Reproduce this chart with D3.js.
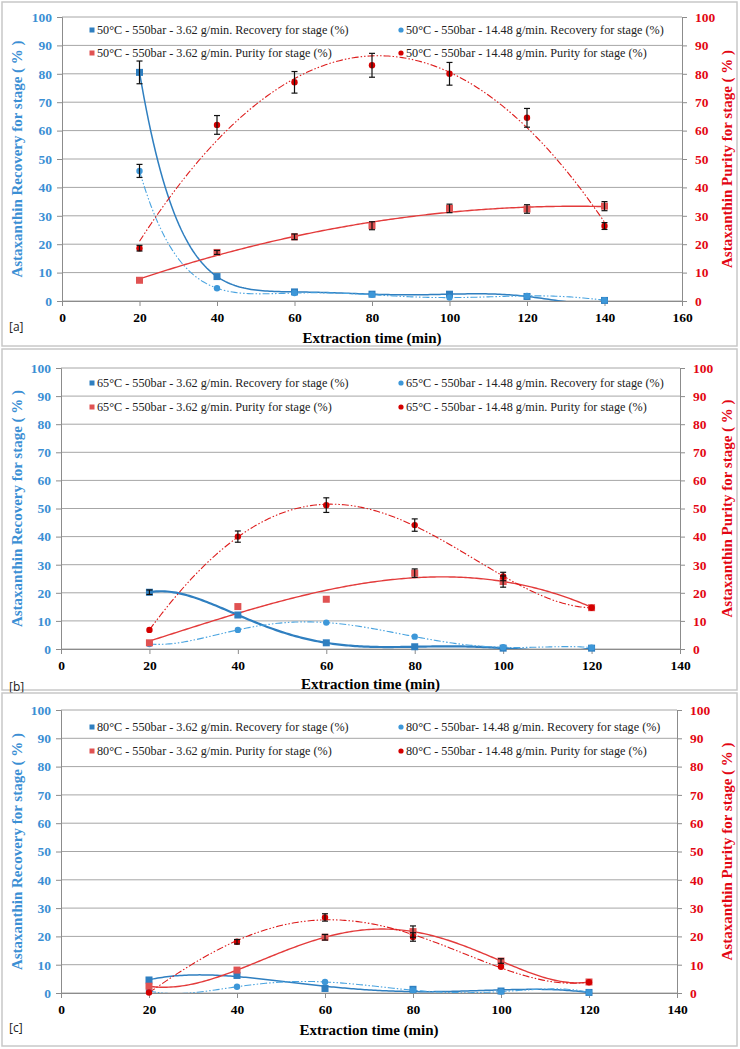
<!DOCTYPE html>
<html>
<head>
<meta charset="utf-8">
<script src="https://cdn.jsdelivr.net/npm/d3@7"></script>
<style>
  body { margin: 0; background: #fff; }
  svg text { font-family: "Liberation Serif", Tinos, "Times New Roman", "Nimbus Roman", "DejaVu Serif", serif; }
</style>
</head>
<body>
<svg id="chart" width="740" height="1049"></svg>
<script>
// ---- data ----
const timeA = [20, 40, 60, 80, 100, 120, 140]
const recA1 = [80.5, 8.6, 3.2, 2.4, 2.4, 1.6, 0.2]
const recA1Err = [4, 0.5, 0.5, 0.3, 0.3, 0.3, 0]
const recA2 = [45.8, 4.5, 2.8, 2.2, 1.2, 1.8, 0.3]
const recA2Err = [2.3, 0.3, 0.3, 0.2, 0.2, 0.2, 0]
const purA1 = [7.3, 17.1, 22.6, 26.5, 32.6, 32.4, 33.4]
const purA1Err = [0.5, 0.7, 1, 1.4, 1.5, 1.5, 1.6]
const purA2 = [18.6, 62, 77, 83, 80, 64.5, 26.4]
const purA2Err = [1, 3.3, 3.8, 4.2, 4, 3.3, 1.2]

const timeB = [20, 40, 60, 80, 100, 120]
const recB1 = [20.2, 12.1, 2.2, 0.8, 0.3, 0.3]
const recB1Err = [0.8, 0.4, 0.3, 0.2, 0, 0]
const recB2 = [1.8, 6.8, 9.4, 4.4, 0.6, 0.5]
const recB2Err = [0, 0.3, 0.3, 0.2, 0, 0]
const purB1 = [2.2, 15.1, 17.7, 27, 24, 14.7]
const purB1Err = [0.3, 0.5, 0.5, 1.5, 2, 0.5]
const purB2 = [6.8, 40, 51.2, 44.1, 25.8, 14.7]
const purB2Err = [0.5, 2, 2.6, 2.2, 1.5, 0.5]

const timeC = [20, 40, 60, 80, 100, 120]
const recC1 = [4.6, 6.2, 1.6, 1.3, 0.7, 0.2]
const recC2 = [0.8, 2.2, 3.9, 1.0, 0.5, 0.2]
const recCErr = [0, 0, 0, 0, 0, 0]
const purC1 = [2.4, 8.1, 19.7, 21.7, 11.3, 3.9]
const purC1Err = [0.3, 0.5, 1, 2, 0.8, 0.3]
const purC2 = [0.2, 18.1, 26.7, 19.8, 9.3, 3.8]
const purC2Err = [0.2, 0.8, 1.3, 1.5, 0.5, 0.3]

const legendA = [
  '50°C - 550bar - 3.62 g/min. Recovery for stage (%)',
  '50°C - 550bar - 14.48 g/min. Recovery for stage (%)',
  '50°C - 550bar - 3.62 g/min. Purity for stage (%)',
  '50°C - 550bar - 14.48 g/min. Purity for stage (%)'
]
const legendB = [
  '65°C - 550bar - 3.62 g/min. Recovery for stage (%)',
  '65°C - 550bar - 14.48 g/min. Recovery for stage (%)',
  '65°C - 550bar - 3.62 g/min. Purity for stage (%)',
  '65°C - 550bar - 14.48 g/min. Purity for stage (%)'
]
const legendC = [
  '80°C - 550bar - 3.62 g/min. Recovery for stage (%)',
  '80°C - 550bar- 14.48 g/min. Recovery for stage (%)',
  '80°C - 550bar - 3.62 g/min. Purity for stage (%)',
  '80°C - 550bar - 14.48 g/min. Purity for stage (%)'
]
const yTicks = [0, 10, 20, 30, 40, 50, 60, 70, 80, 90, 100]
const xTicksA = [0, 20, 40, 60, 80, 100, 120, 140, 160]
const xTicksBC = [0, 20, 40, 60, 80, 100, 120, 140]
const tags = ['[a]', '[b]', '[c]']

// trendline order for each series (Excel polynomial trendlines)
const orderA = [6, 6, 2, 2]
const orderB = [5, 5, 3, 4]
const orderC = [4, 5, 5, 4]

// ---- styles ----
const SERIF = '"Liberation Serif", Tinos, "Times New Roman", "Nimbus Roman", "DejaVu Serif", serif'
const BLUE_TXT = '#3b8fd4'
const RED_TXT = '#e30613'
const GRID = '#a6a6a6'
const seriesStyle = [
  { marker: 'square', fill: '#2f7fc0', stroke: '#2f7fc0', width: 1.5, dash: null },
  { marker: 'circle', fill: '#3d97d8', stroke: '#4aa4e0', width: 1.1, dash: '7,2,1.5,2,1.5,2' },
  { marker: 'square', fill: '#e05252', stroke: '#e33b3b', width: 1.4, dash: null },
  { marker: 'circle', fill: '#d40000', stroke: '#dd1c1c', width: 1.1, dash: '7,2,1.5,2,1.5,2' }
]

const panels = [
  { x: timeA, series: [recA1, recA2, purA1, purA2], errs: [recA1Err, recA2Err, purA1Err, purA2Err],
    orders: orderA, legend: legendA, xTicks: xTicksA, xMax: 160,
    frame: [2, 346], top: 17, bottom: 301, left: 62, right: 682, legY: [30, 53], tagY: 326, titleY: 338 },
  { x: timeB, series: [recB1, recB2, purB1, purB2], errs: [recB1Err, recB2Err, purB1Err, purB2Err],
    orders: orderB, legend: legendB, xTicks: xTicksBC, xMax: 140,
    frame: [349, 690], top: 368, bottom: 649, left: 61, right: 680, legY: [383, 407], tagY: 686, titleY: 684 },
  { x: timeC, series: [recC1, recC2, purC1, purC2], errs: [recCErr, recCErr, purC1Err, purC2Err],
    orders: orderC, legend: legendC, xTicks: xTicksBC, xMax: 140,
    frame: [693, 1046], top: 710, bottom: 993, left: 61, right: 677, legY: [727, 751], tagY: 1027, titleY: 1030 }
]

// least squares polynomial fit, x centred and scaled to keep it stable
function polyFit (xs, ys, order) {
  const mx = d3.mean(xs)
  const t = xs.map(v => (v - mx) / 20)
  const n = order + 1
  const A = Array.from({ length: n }, () => new Array(n + 1).fill(0))
  for (let i = 0; i < n; i++) {
    for (let j = 0; j < n; j++) A[i][j] = d3.sum(t, v => Math.pow(v, i + j))
    A[i][n] = d3.sum(t, (v, k) => Math.pow(v, i) * ys[k])
  }
  for (let c = 0; c < n; c++) {
    let p = c
    for (let r = c + 1; r < n; r++) if (Math.abs(A[r][c]) > Math.abs(A[p][c])) p = r
    const tmp = A[c]; A[c] = A[p]; A[p] = tmp
    for (let r = 0; r < n; r++) {
      if (r === c) continue
      const f = A[r][c] / A[c][c]
      for (let k = c; k <= n; k++) A[r][k] -= f * A[c][k]
    }
  }
  const coef = A.map((row, i) => row[n] / row[i])
  return x => {
    const u = (x - mx) / 20
    return coef.reduce((s, c, i) => s + c * Math.pow(u, i), 0)
  }
}

const svg = d3.select('#chart')

panels.forEach((p, pi) => {
  const g = svg.append('g')

  g.append('rect')
    .attr('x', 2).attr('y', p.frame[0])
    .attr('width', 735).attr('height', p.frame[1] - p.frame[0])
    .attr('fill', '#fff')
    .attr('stroke', '#c8c8c8')
    .attr('stroke-width', 1.5)

  const x = d3.scaleLinear().domain([0, p.xMax]).range([p.left, p.right])
  const y = d3.scaleLinear().domain([0, 100]).range([p.bottom, p.top])

  // gridlines
  g.append('g')
    .selectAll('line')
    .data(yTicks)
    .join('line')
    .attr('x1', p.left).attr('x2', p.right)
    .attr('y1', d => y(d)).attr('y2', d => y(d))
    .attr('stroke', GRID)
    .attr('stroke-width', 1)

  // axes
  const left = g.append('g')
    .attr('transform', `translate(${p.left},0)`)
    .call(d3.axisLeft(y).tickValues(yTicks).tickSize(5).tickPadding(5))
  left.selectAll('text').attr('fill', BLUE_TXT)

  const right = g.append('g')
    .attr('transform', `translate(${p.right},0)`)
    .call(d3.axisRight(y).tickValues(yTicks).tickSize(5).tickPadding(8))
  right.selectAll('text').attr('fill', RED_TXT)

  const bottom = g.append('g')
    .attr('transform', `translate(0,${p.bottom})`)
    .call(d3.axisBottom(x).tickValues(p.xTicks).tickSize(5).tickPadding(6))
  bottom.selectAll('text').attr('fill', '#000')

  g.selectAll('g').attr('font-family', SERIF)
  g.selectAll('.domain, .tick line').attr('stroke', '#8c8c8c')
  g.selectAll('.tick text')
    .style('font-family', SERIF)
    .attr('font-weight', 'bold')
    .attr('font-size', 13.5)

  // axis titles
  g.append('text')
    .attr('transform', `translate(17,${(p.top + p.bottom) / 2}) rotate(-90)`)
    .attr('text-anchor', 'middle')
    .attr('dominant-baseline', 'central')
    .attr('fill', BLUE_TXT)
    .attr('font-weight', 'bold')
    .attr('font-size', 15)
    .text('Astaxanthin Recovery for stage ( % )')

  g.append('text')
    .attr('transform', `translate(727,${(p.top + p.bottom) / 2}) rotate(-90)`)
    .attr('text-anchor', 'middle')
    .attr('dominant-baseline', 'central')
    .attr('fill', RED_TXT)
    .attr('font-weight', 'bold')
    .attr('font-size', 15)
    .text('Astaxanthin Purity for stage ( % )')

  g.append('text')
    .attr('x', (p.left + p.right) / 2)
    .attr('y', p.titleY)
    .attr('text-anchor', 'middle')
    .attr('dominant-baseline', 'central')
    .attr('font-weight', 'bold')
    .attr('font-size', 15)
    .text('Extraction time (min)')

  g.append('text')
    .attr('x', 9)
    .attr('y', p.tagY)
    .attr('dominant-baseline', 'central')
    .style('font-family', '"Open Sans", "Liberation Sans", sans-serif')
    .attr('font-size', 12)
    .attr('fill', '#222')
    .text(tags[pi])

  // clip plot area
  const clipId = 'clip' + pi
  g.append('clipPath').attr('id', clipId)
    .append('rect')
    .attr('x', p.left).attr('y', p.top - 2)
    .attr('width', p.right - p.left).attr('height', p.bottom - p.top + 2)

  // trendlines
  const plot = g.append('g')
  const lineGen = d3.line().x(d => x(d[0])).y(d => y(d[1]))
  p.series.forEach((vals, si) => {
    const st = seriesStyle[si]
    const f = polyFit(p.x, vals, p.orders[si])
    const x0 = d3.min(p.x)
    const x1 = d3.max(p.x)
    const pts = d3.range(0, 201).map(i => {
      const xv = x0 + (x1 - x0) * i / 200
      return [xv, f(xv)]
    })
    plot.append('path')
      .attr('clip-path', `url(#${clipId})`)
      .attr('d', lineGen(pts))
      .attr('fill', 'none')
      .attr('stroke', st.stroke)
      .attr('stroke-width', pi === 1 && si === 0 ? 2.2 : st.width)
      .attr('stroke-dasharray', st.dash)
  })

  // markers
  p.series.forEach((vals, si) => {
    const st = seriesStyle[si]
    const pts = p.x.map((xv, i) => [xv, vals[i]])
    if (st.marker === 'square') {
      plot.append('g').selectAll('rect')
        .data(pts)
        .join('rect')
        .attr('x', d => x(d[0]) - 3.5)
        .attr('y', d => y(d[1]) - 3.5)
        .attr('width', 7).attr('height', 7)
        .attr('fill', st.fill)
    } else {
      plot.append('g').selectAll('circle')
        .data(pts)
        .join('circle')
        .attr('cx', d => x(d[0]))
        .attr('cy', d => y(d[1]))
        .attr('r', 3.2)
        .attr('fill', st.fill)
    }
  })

  // error bars
  p.series.forEach((vals, si) => {
    const errs = p.errs[si]
    const pts = p.x.map((xv, i) => [xv, vals[i], errs[i]]).filter(d => d[2] > 0.6)
    const eb = plot.append('g').attr('stroke', '#111').attr('stroke-width', 1.2)
    eb.selectAll('.v').data(pts).join('line')
      .attr('x1', d => x(d[0])).attr('x2', d => x(d[0]))
      .attr('y1', d => y(d[1] - d[2])).attr('y2', d => y(d[1] + d[2]))
    eb.selectAll('.t').data(pts).join('line')
      .attr('x1', d => x(d[0]) - 3).attr('x2', d => x(d[0]) + 3)
      .attr('y1', d => y(d[1] + d[2])).attr('y2', d => y(d[1] + d[2]))
    eb.selectAll('.b').data(pts).join('line')
      .attr('x1', d => x(d[0]) - 3).attr('x2', d => x(d[0]) + 3)
      .attr('y1', d => y(d[1] - d[2])).attr('y2', d => y(d[1] - d[2]))
  })

  // legend
  const legX = [92, 401]
  p.legend.forEach((label, li) => {
    const st = seriesStyle[li]
    const lx = legX[li % 2]
    const ly = p.legY[Math.floor(li / 2)]
    if (st.marker === 'square') {
      g.append('rect').attr('x', lx - 2.5).attr('y', ly - 2.5)
        .attr('width', 5).attr('height', 5).attr('fill', st.fill)
    } else {
      g.append('circle').attr('cx', lx).attr('cy', ly).attr('r', 2.6).attr('fill', st.fill)
    }
    g.append('text')
      .attr('x', lx + 5)
      .attr('y', ly)
      .attr('dominant-baseline', 'central')
      .attr('font-size', 12.2)
      .attr('fill', '#222')
      .text(label)
  })
})
</script>
</body>
</html>
